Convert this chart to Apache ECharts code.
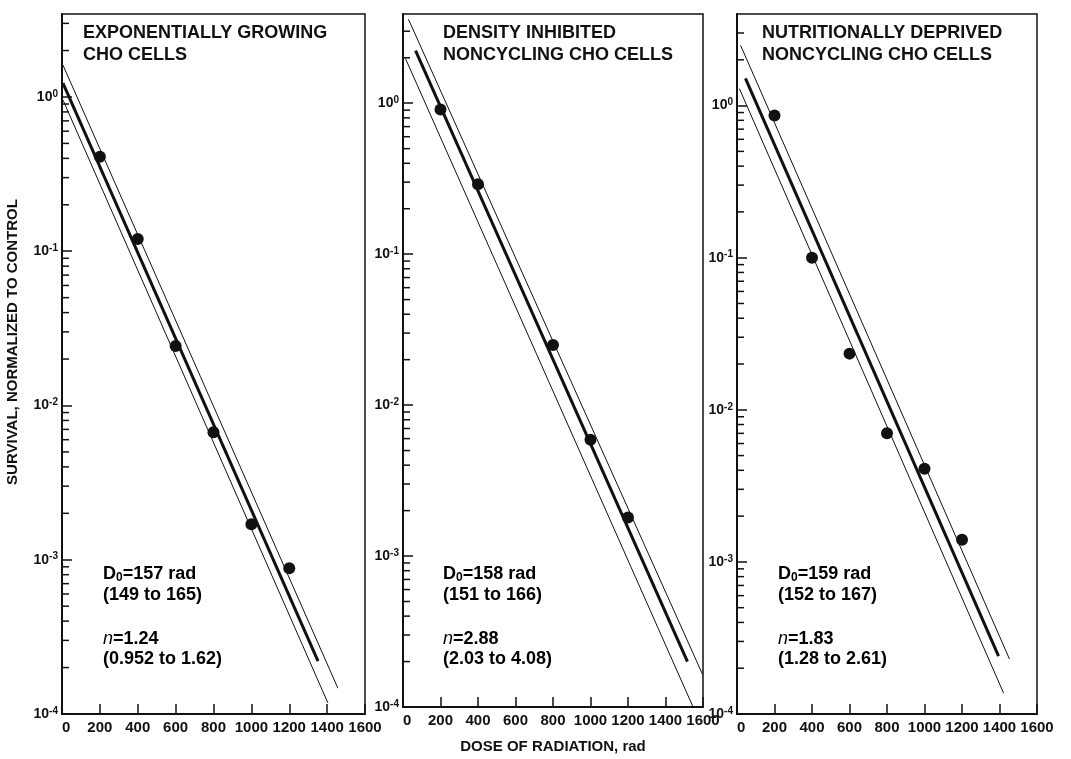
<!DOCTYPE html>
<html>
<head>
<meta charset="utf-8">
<title>CHO cell survival</title>
<script src="https://cdn.jsdelivr.net/npm/echarts@6/dist/echarts.min.js"></script>
<style>
  html, body { margin: 0; padding: 0; background: #fff; }
  #chart { width: 1071px; height: 759px; }
</style>
</head>
<body>
<div id="chart"></div>
<script>
// doses (rad) and measured survival fractions, one array per panel
const dosesExp = [200, 400, 600, 800, 1000, 1200]
const survivalExp = [0.41, 0.12, 0.0243, 0.0067, 0.0017, 0.00088]
const dosesDensity = [200, 400, 800, 1000, 1200]
const survivalDensity = [0.91, 0.29, 0.025, 0.0059, 0.0018]
const dosesNutri = [200, 400, 600, 800, 1000, 1200]
const survivalNutri = [0.86, 0.10, 0.0234, 0.0070, 0.0041, 0.0014]

// fitted line and confidence limits: [dose, survival] end points
const fitExp = [[5, 1.23], [1352, 2.2e-4]]
const upperExp = [[5, 1.61], [1457, 1.47e-4]]
const lowerExp = [[5, 0.957], [1404, 1.18e-4]]
const fitDensity = [[67, 2.23], [1517, 2.0e-4]]
const upperDensity = [[29, 3.6], [1597, 1.65e-4]]
const lowerDensity = [[13, 1.98], [1547, 1.0e-4]]
const fitNutri = [[45, 1.51], [1395, 2.4e-4]]
const upperNutri = [[19, 2.49], [1453, 2.3e-4]]
const lowerNutri = [[13, 1.29], [1422, 1.37e-4]]

// axis ranges / ticks
const doseTicks = [0, 200, 400, 600, 800, 1000, 1200, 1400, 1600]
const survivalMin = 1e-4
const survivalMax = [3.45, 3.9, 4.0]
const decades = [1e-4, 1e-3, 1e-2, 1e-1, 1]
const minorSteps = [2, 3, 4, 5, 6, 7, 8, 9]

const titles = [
  'EXPONENTIALLY GROWING\nCHO CELLS',
  'DENSITY INHIBITED\nNONCYCLING CHO CELLS',
  'NUTRITIONALLY DEPRIVED\nNONCYCLING CHO CELLS'
]
const d0Text = ['157 rad', '158 rad', '159 rad']
const d0Range = ['(149 to 165)', '(151 to 166)', '(152 to 167)']
const nText = ['1.24', '2.88', '1.83']
const nRange = ['(0.952 to 1.62)', '(2.03 to 4.08)', '(1.28 to 2.61)']

const FONT = '"Liberation Sans", Arial, Helvetica, sans-serif'
const INK = '#111'

const grids = [
  { left: 62, right: 706, top: 14, bottom: 45 },
  { left: 403, right: 368, top: 14, bottom: 45 },
  { left: 737, right: 34, top: 14, bottom: 45 }
]
const titlePos = [83, 443, 762]
const notePos = [103, 443, 778]

const chart = echarts.init(document.getElementById('chart'))

function minorTicks(idx) {
  const vals = []
  decades.forEach(d => {
    minorSteps.forEach(m => {
      if (d * m < survivalMax[idx]) vals.push([0, d * m])
    })
  })
  return {
    type: 'custom',
    xAxisIndex: idx,
    yAxisIndex: idx,
    silent: true,
    data: vals,
    renderItem(params, api) {
      const p = api.coord([0, api.value(1)])
      return {
        type: 'line',
        shape: { x1: p[0], y1: p[1], x2: p[0] + 7, y2: p[1] },
        style: { stroke: INK, lineWidth: 1.5 }
      }
    }
  }
}

function lineSeries(idx, data, width) {
  return {
    type: 'line',
    xAxisIndex: idx,
    yAxisIndex: idx,
    data,
    showSymbol: false,
    silent: true,
    lineStyle: { color: INK, width }
  }
}

function pointSeries(idx, doses, survival) {
  return {
    type: 'scatter',
    xAxisIndex: idx,
    yAxisIndex: idx,
    data: doses.map((d, i) => [d, survival[i]]),
    symbolSize: 12,
    itemStyle: { color: INK, opacity: 1 }
  }
}

const panels = [
  { doses: dosesExp, survival: survivalExp, fit: fitExp, upper: upperExp, lower: lowerExp },
  { doses: dosesDensity, survival: survivalDensity, fit: fitDensity, upper: upperDensity, lower: lowerDensity },
  { doses: dosesNutri, survival: survivalNutri, fit: fitNutri, upper: upperNutri, lower: lowerNutri }
]

const series = []
panels.forEach((p, i) => {
  series.push(minorTicks(i))
  series.push(lineSeries(i, p.upper, 1))
  series.push(lineSeries(i, p.lower, 1))
  series.push(lineSeries(i, p.fit, 3))
  series.push(pointSeries(i, p.doses, p.survival))
})

const baseText = { fontFamily: FONT, fontWeight: 'bold', color: INK }
const noteRich = {
  b: { ...baseText, fontSize: 18, lineHeight: 20 },
  i: { ...baseText, fontSize: 18, lineHeight: 20, fontStyle: 'italic', fontWeight: 'normal' },
  s: { ...baseText, fontSize: 12, lineHeight: 12, verticalAlign: 'bottom' }
}

const graphics = []
notePos.forEach((x, i) => {
  const lines = [
    [575, '{b|D}{s|0}{b|=' + d0Text[i] + '}'],
    [596, '{b|' + d0Range[i] + '}'],
    [640, '{i|n}{b|=' + nText[i] + '}'],
    [660, '{b|' + nRange[i] + '}']
  ]
  lines.forEach(([y, text]) => {
    graphics.push({
      type: 'text',
      left: x,
      top: y - 10,
      silent: true,
      style: { text, rich: noteRich, fontFamily: FONT }
    })
  })
})

chart.setOption({
  animation: false,
  backgroundColor: '#fff',
  title: titles.map((t, i) => ({
    text: t,
    left: titlePos[i],
    top: 22,
    padding: 0,
    textStyle: { ...baseText, fontSize: 18, lineHeight: 22 }
  })),
  grid: grids.map(g => ({ ...g, show: true, borderColor: INK, borderWidth: 1.5 })),
  xAxis: grids.map((g, i) => ({
    type: 'value',
    gridIndex: i,
    min: doseTicks[0],
    max: doseTicks[doseTicks.length - 1],
    interval: 200,
    name: i === 1 ? 'DOSE OF RADIATION, rad' : '',
    nameLocation: 'middle',
    nameGap: 32,
    nameTextStyle: { ...baseText, fontSize: 15 },
    splitLine: { show: false },
    axisLine: { lineStyle: { color: INK, width: 2 } },
    axisTick: { inside: true, length: 10, lineStyle: { color: INK, width: 1.5 } },
    axisLabel: {
      ...baseText,
      fontSize: 15,
      margin: 6,
      hideOverlap: false,
      alignMinLabel: 'left',
      showMinLabel: true,
      showMaxLabel: true,
      formatter: v => String(v)
    }
  })),
  yAxis: grids.map((g, i) => ({
    type: 'log',
    gridIndex: i,
    logBase: 10,
    min: survivalMin,
    max: survivalMax[i],
    name: i === 0 ? 'SURVIVAL, NORMALIZED TO CONTROL' : '',
    nameLocation: 'middle',
    nameRotate: 90,
    nameGap: 42,
    nameTextStyle: { ...baseText, fontSize: 15, padding: [0, 0, 0, 44] },
    splitLine: { show: false },
    axisLine: { lineStyle: { color: INK, width: 2 } },
    axisTick: { inside: true, length: 10, lineStyle: { color: INK, width: 1.5 } },
    axisLabel: {
      margin: 4,
      showMaxLabel: false,
      formatter(v) {
        const e = Math.round(Math.log10(v))
        if (Math.abs(Math.log10(v) - e) > 1e-6) return ''
        return '{b|10}{s|' + e + '}'
      },
      rich: {
        b: { ...baseText, fontSize: 14, lineHeight: 16 },
        s: { ...baseText, fontSize: 10, lineHeight: 10, verticalAlign: 'top' }
      }
    }
  })),
  graphic: graphics,
  series
})
</script>
</body>
</html>
